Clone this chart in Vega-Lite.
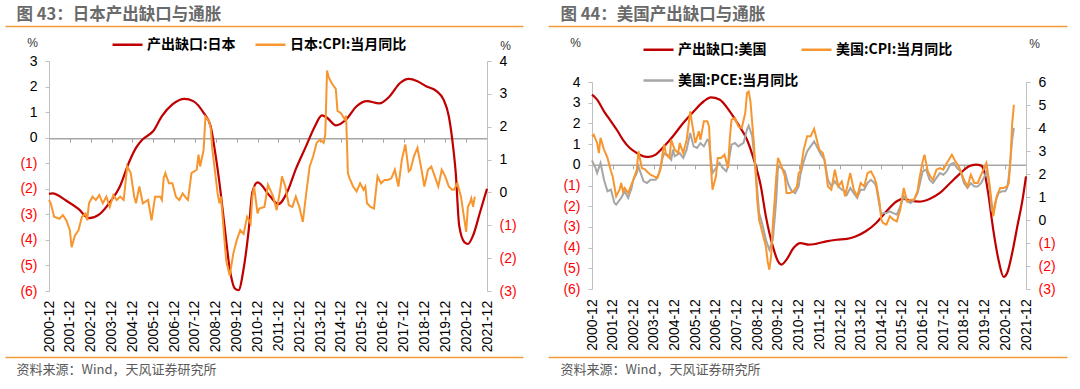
{
"$schema": "https://vega.github.io/schema/vega-lite/v6.json",
"background": "#ffffff",
"width": 1080, "height": 389,
"autosize": "none",
"padding": 0,
"config": {"view": {"stroke": null}, "axis": {"labelFont": "Liberation Sans", "titleFont": "Liberation Sans", "grid": false}},
"datasets": {
"gj": [{"d":"2000-12","v":-2.2},{"d":"2001-02","v":-2.18},{"d":"2001-10","v":-2.47},{"d":"2002-05","v":-2.79},{"d":"2002-11","v":-3.15},{"d":"2003-05","v":-3.0},{"d":"2003-11","v":-2.53},{"d":"2004-05","v":-1.88},{"d":"2004-10","v":-0.97},{"d":"2005-02","v":-0.4},{"d":"2005-06","v":-0.06},{"d":"2005-12","v":0.26},{"d":"2006-05","v":0.84},{"d":"2006-11","v":1.3},{"d":"2007-06","v":1.52},{"d":"2007-11","v":1.43},{"d":"2008-05","v":0.97},{"d":"2008-09","v":0.45},{"d":"2008-11","v":-0.32},{"d":"2009-02","v":-1.75},{"d":"2009-05","v":-3.44},{"d":"2009-08","v":-5.13},{"d":"2009-11","v":-5.91},{"d":"2010-01","v":-5.97},{"d":"2010-04","v":-5.13},{"d":"2010-07","v":-3.57},{"d":"2010-09","v":-2.14},{"d":"2010-12","v":-1.75},{"d":"2011-07","v":-2.27},{"d":"2011-12","v":-2.6},{"d":"2012-05","v":-2.14},{"d":"2012-10","v":-1.23},{"d":"2013-04","v":-0.32},{"d":"2013-09","v":0.45},{"d":"2014-01","v":0.87},{"d":"2014-04","v":0.78},{"d":"2014-09","v":0.48},{"d":"2015-03","v":0.71},{"d":"2015-09","v":1.23},{"d":"2016-03","v":1.43},{"d":"2016-10","v":1.34},{"d":"2017-04","v":1.62},{"d":"2017-10","v":2.14},{"d":"2018-03","v":2.3},{"d":"2018-08","v":2.21},{"d":"2019-01","v":2.01},{"d":"2019-07","v":1.82},{"d":"2019-11","v":1.49},{"d":"2020-02","v":0.84},{"d":"2020-04","v":-0.06},{"d":"2020-06","v":-1.36},{"d":"2020-08","v":-3.44},{"d":"2020-11","v":-4.09},{"d":"2021-01","v":-4.16},{"d":"2021-04","v":-3.83},{"d":"2021-08","v":-2.92},{"d":"2021-12","v":-2.0}],
"cj": [{"d":"2000-12","v":-0.23},{"d":"2001-01","v":-0.33},{"d":"2001-03","v":-0.74},{"d":"2001-06","v":-0.8},{"d":"2001-08","v":-0.69},{"d":"2001-10","v":-0.85},{"d":"2001-12","v":-1.15},{"d":"2002-01","v":-1.67},{"d":"2002-03","v":-1.31},{"d":"2002-05","v":-1.15},{"d":"2002-07","v":-0.74},{"d":"2002-09","v":-0.64},{"d":"2002-10","v":-0.85},{"d":"2002-11","v":-0.33},{"d":"2003-01","v":-0.13},{"d":"2003-03","v":-0.23},{"d":"2003-05","v":-0.08},{"d":"2003-07","v":-0.33},{"d":"2003-09","v":-0.13},{"d":"2003-11","v":-0.44},{"d":"2004-01","v":-0.08},{"d":"2004-03","v":-0.23},{"d":"2004-05","v":-0.13},{"d":"2004-07","v":-0.23},{"d":"2004-09","v":0.79},{"d":"2004-11","v":0.59},{"d":"2005-01","v":-0.13},{"d":"2005-02","v":-0.33},{"d":"2005-04","v":0.18},{"d":"2005-06","v":-0.33},{"d":"2005-09","v":-0.23},{"d":"2005-11","v":-0.85},{"d":"2006-01","v":-0.13},{"d":"2006-04","v":-0.13},{"d":"2006-05","v":-0.23},{"d":"2006-06","v":0.43},{"d":"2006-07","v":0.59},{"d":"2006-09","v":0.28},{"d":"2006-11","v":0.28},{"d":"2007-01","v":-0.13},{"d":"2007-03","v":-0.23},{"d":"2007-05","v":-0.03},{"d":"2007-07","v":-0.18},{"d":"2007-08","v":-0.23},{"d":"2007-10","v":0.59},{"d":"2008-01","v":0.69},{"d":"2008-02","v":1.15},{"d":"2008-03","v":0.79},{"d":"2008-05","v":1.3},{"d":"2008-06","v":2.31},{"d":"2008-08","v":2.18},{"d":"2008-09","v":1.97},{"d":"2008-10","v":1.3},{"d":"2009-01","v":-0.03},{"d":"2009-02","v":-0.33},{"d":"2009-03","v":-0.13},{"d":"2009-05","v":-1.46},{"d":"2009-06","v":-2.08},{"d":"2009-08","v":-2.54},{"d":"2009-10","v":-1.87},{"d":"2009-12","v":-1.46},{"d":"2010-02","v":-1.15},{"d":"2010-04","v":-1.26},{"d":"2010-06","v":-0.74},{"d":"2010-08","v":-0.95},{"d":"2010-09","v":-0.13},{"d":"2010-10","v":0.18},{"d":"2010-12","v":-0.64},{"d":"2011-01","v":-0.49},{"d":"2011-04","v":-0.44},{"d":"2011-06","v":0.23},{"d":"2011-09","v":-0.13},{"d":"2011-11","v":-0.54},{"d":"2012-01","v":0.08},{"d":"2012-02","v":0.49},{"d":"2012-04","v":0.18},{"d":"2012-06","v":-0.39},{"d":"2012-08","v":-0.44},{"d":"2012-10","v":-0.13},{"d":"2012-12","v":-0.44},{"d":"2013-02","v":-0.9},{"d":"2013-04","v":-0.03},{"d":"2013-06","v":0.79},{"d":"2013-08","v":1.1},{"d":"2013-10","v":1.51},{"d":"2013-12","v":1.61},{"d":"2014-02","v":1.51},{"d":"2014-03","v":1.77},{"d":"2014-04","v":3.71},{"d":"2014-05","v":3.5},{"d":"2014-07","v":3.3},{"d":"2014-09","v":3.15},{"d":"2014-10","v":2.48},{"d":"2014-12","v":2.41},{"d":"2015-02","v":2.23},{"d":"2015-03","v":2.33},{"d":"2015-04","v":0.59},{"d":"2015-05","v":0.43},{"d":"2015-07","v":0.18},{"d":"2015-09","v":0.03},{"d":"2015-11","v":0.28},{"d":"2016-01","v":0.08},{"d":"2016-02","v":0.18},{"d":"2016-03","v":-0.33},{"d":"2016-05","v":-0.44},{"d":"2016-07","v":-0.49},{"d":"2016-09","v":0.49},{"d":"2016-11","v":0.28},{"d":"2017-01","v":0.38},{"d":"2017-03","v":0.38},{"d":"2017-05","v":0.43},{"d":"2017-07","v":0.69},{"d":"2017-09","v":0.18},{"d":"2017-11","v":1.0},{"d":"2018-01","v":1.46},{"d":"2018-03","v":0.64},{"d":"2018-04","v":0.69},{"d":"2018-06","v":1.1},{"d":"2018-08","v":1.36},{"d":"2018-10","v":0.79},{"d":"2018-12","v":0.18},{"d":"2019-02","v":0.69},{"d":"2019-04","v":0.79},{"d":"2019-06","v":0.49},{"d":"2019-08","v":0.18},{"d":"2019-10","v":0.69},{"d":"2019-12","v":0.49},{"d":"2020-02","v":0.18},{"d":"2020-04","v":0.08},{"d":"2020-05","v":0.08},{"d":"2020-07","v":0.28},{"d":"2020-09","v":-0.13},{"d":"2020-12","v":-1.2},{"d":"2021-01","v":-0.44},{"d":"2021-02","v":-0.33},{"d":"2021-03","v":-0.18},{"d":"2021-04","v":-0.44},{"d":"2021-05","v":-0.13}],
"gu": [{"d":"2000-12","v":3.39},{"d":"2001-03","v":3.15},{"d":"2001-07","v":2.58},{"d":"2001-11","v":2.1},{"d":"2002-03","v":1.62},{"d":"2002-06","v":1.21},{"d":"2002-10","v":0.81},{"d":"2003-02","v":0.57},{"d":"2003-06","v":0.41},{"d":"2003-09","v":0.38},{"d":"2004-01","v":0.49},{"d":"2004-05","v":0.81},{"d":"2004-11","v":1.38},{"d":"2005-05","v":2.02},{"d":"2005-11","v":2.58},{"d":"2006-05","v":3.07},{"d":"2006-09","v":3.26},{"d":"2007-02","v":3.15},{"d":"2007-08","v":2.58},{"d":"2008-01","v":1.94},{"d":"2008-06","v":1.21},{"d":"2008-10","v":0.25},{"d":"2009-02","v":-1.04},{"d":"2009-05","v":-2.49},{"d":"2009-09","v":-3.94},{"d":"2009-12","v":-4.66},{"d":"2010-02","v":-4.82},{"d":"2010-05","v":-4.58},{"d":"2010-09","v":-4.02},{"d":"2011-01","v":-3.78},{"d":"2011-06","v":-3.86},{"d":"2011-10","v":-3.82},{"d":"2012-04","v":-3.7},{"d":"2012-10","v":-3.62},{"d":"2013-04","v":-3.58},{"d":"2013-09","v":-3.46},{"d":"2014-03","v":-3.21},{"d":"2014-09","v":-2.81},{"d":"2015-03","v":-2.25},{"d":"2015-09","v":-1.76},{"d":"2016-01","v":-1.65},{"d":"2016-05","v":-1.73},{"d":"2016-10","v":-1.78},{"d":"2017-04","v":-1.65},{"d":"2017-10","v":-1.36},{"d":"2018-04","v":-0.88},{"d":"2018-10","v":-0.4},{"d":"2019-03","v":-0.07},{"d":"2019-07","v":0.01},{"d":"2019-10","v":-0.04},{"d":"2019-12","v":-0.4},{"d":"2020-02","v":-1.36},{"d":"2020-05","v":-3.13},{"d":"2020-08","v":-4.58},{"d":"2020-11","v":-5.42},{"d":"2021-01","v":-5.23},{"d":"2021-04","v":-4.26},{"d":"2021-07","v":-2.97},{"d":"2021-10","v":-1.68},{"d":"2021-12","v":-0.56}],
"cu": [{"d":"2000-12","v":3.64},{"d":"2001-01","v":3.71},{"d":"2001-03","v":3.35},{"d":"2001-04","v":2.91},{"d":"2001-05","v":3.57},{"d":"2001-07","v":3.06},{"d":"2001-09","v":2.7},{"d":"2001-11","v":2.12},{"d":"2001-12","v":1.9},{"d":"2002-01","v":1.46},{"d":"2002-02","v":1.03},{"d":"2002-04","v":1.32},{"d":"2002-05","v":1.61},{"d":"2002-06","v":1.25},{"d":"2002-07","v":1.39},{"d":"2002-09","v":1.17},{"d":"2002-12","v":1.75},{"d":"2003-02","v":2.19},{"d":"2003-03","v":2.99},{"d":"2003-05","v":2.26},{"d":"2003-07","v":2.19},{"d":"2003-08","v":2.1},{"d":"2003-10","v":1.97},{"d":"2003-12","v":1.9},{"d":"2004-02","v":1.83},{"d":"2004-04","v":2.26},{"d":"2004-05","v":2.91},{"d":"2004-06","v":3.28},{"d":"2004-07","v":2.84},{"d":"2004-09","v":2.7},{"d":"2004-10","v":3.49},{"d":"2004-12","v":3.06},{"d":"2005-02","v":2.91},{"d":"2005-03","v":3.35},{"d":"2005-05","v":2.91},{"d":"2005-07","v":3.49},{"d":"2005-08","v":4.07},{"d":"2005-09","v":4.72},{"d":"2005-11","v":3.78},{"d":"2005-12","v":3.35},{"d":"2006-02","v":3.86},{"d":"2006-03","v":3.49},{"d":"2006-05","v":4.29},{"d":"2006-07","v":4.29},{"d":"2006-08","v":4.07},{"d":"2006-09","v":2.33},{"d":"2006-10","v":1.32},{"d":"2006-12","v":1.9},{"d":"2007-01","v":2.7},{"d":"2007-03","v":2.7},{"d":"2007-05","v":2.84},{"d":"2007-07","v":2.26},{"d":"2007-08","v":3.49},{"d":"2007-09","v":4.36},{"d":"2007-11","v":4.43},{"d":"2008-01","v":4.07},{"d":"2008-03","v":4.0},{"d":"2008-05","v":4.65},{"d":"2008-06","v":5.52},{"d":"2008-07","v":5.59},{"d":"2008-08","v":5.16},{"d":"2008-10","v":3.35},{"d":"2008-11","v":2.04},{"d":"2008-12","v":0.8},{"d":"2009-01","v":0.01},{"d":"2009-02","v":-0.28},{"d":"2009-04","v":-0.86},{"d":"2009-05","v":-1.14},{"d":"2009-06","v":-1.8},{"d":"2009-07","v":-2.16},{"d":"2009-08","v":-1.58},{"d":"2009-09","v":-0.2},{"d":"2009-10","v":0.8},{"d":"2009-11","v":1.9},{"d":"2009-12","v":2.7},{"d":"2010-02","v":2.33},{"d":"2010-04","v":1.9},{"d":"2010-05","v":1.17},{"d":"2010-07","v":1.17},{"d":"2010-09","v":1.25},{"d":"2010-11","v":1.46},{"d":"2010-12","v":2.04},{"d":"2011-01","v":2.12},{"d":"2011-03","v":3.06},{"d":"2011-05","v":3.64},{"d":"2011-07","v":3.64},{"d":"2011-09","v":3.96},{"d":"2011-12","v":3.06},{"d":"2012-02","v":2.91},{"d":"2012-03","v":2.62},{"d":"2012-05","v":1.46},{"d":"2012-07","v":1.32},{"d":"2012-09","v":2.19},{"d":"2012-11","v":1.46},{"d":"2013-01","v":1.68},{"d":"2013-03","v":1.03},{"d":"2013-06","v":2.04},{"d":"2013-08","v":1.32},{"d":"2013-10","v":1.03},{"d":"2013-12","v":1.61},{"d":"2014-02","v":1.46},{"d":"2014-04","v":2.04},{"d":"2014-06","v":2.12},{"d":"2014-08","v":1.83},{"d":"2014-09","v":1.61},{"d":"2014-11","v":0.74},{"d":"2014-12","v":0.01},{"d":"2015-01","v":-0.13},{"d":"2015-03","v":-0.2},{"d":"2015-05","v":0.16},{"d":"2015-07","v":0.01},{"d":"2015-09","v":-0.06},{"d":"2015-11","v":0.45},{"d":"2016-01","v":1.39},{"d":"2016-03","v":0.81},{"d":"2016-05","v":0.88},{"d":"2016-07","v":0.88},{"d":"2016-09","v":1.25},{"d":"2016-10","v":1.75},{"d":"2016-12","v":2.55},{"d":"2017-01","v":2.84},{"d":"2017-03","v":2.12},{"d":"2017-05","v":1.83},{"d":"2017-06","v":1.75},{"d":"2017-08","v":2.19},{"d":"2017-10","v":2.26},{"d":"2017-12","v":2.19},{"d":"2018-02","v":2.48},{"d":"2018-05","v":2.84},{"d":"2018-07","v":2.55},{"d":"2018-09","v":2.33},{"d":"2018-12","v":1.75},{"d":"2019-02","v":1.46},{"d":"2019-04","v":1.97},{"d":"2019-06","v":1.61},{"d":"2019-08","v":1.61},{"d":"2019-10","v":1.97},{"d":"2020-01","v":2.48},{"d":"2020-03","v":1.46},{"d":"2020-05","v":0.16},{"d":"2020-06","v":0.59},{"d":"2020-07","v":1.03},{"d":"2020-09","v":1.39},{"d":"2020-11","v":1.39},{"d":"2021-01","v":1.46},{"d":"2021-02","v":1.61},{"d":"2021-03","v":2.62},{"d":"2021-04","v":4.2},{"d":"2021-05","v":5.01}],
"pu": [{"d":"2000-12","v":2.59},{"d":"2001-02","v":2.26},{"d":"2001-03","v":2.04},{"d":"2001-05","v":2.48},{"d":"2001-07","v":1.75},{"d":"2001-09","v":1.25},{"d":"2001-11","v":1.32},{"d":"2002-01","v":0.74},{"d":"2002-02","v":0.67},{"d":"2002-05","v":0.96},{"d":"2002-07","v":1.25},{"d":"2002-09","v":0.96},{"d":"2002-11","v":1.39},{"d":"2002-12","v":1.75},{"d":"2003-02","v":2.04},{"d":"2003-03","v":2.33},{"d":"2003-06","v":1.68},{"d":"2003-08","v":1.61},{"d":"2003-10","v":1.75},{"d":"2004-01","v":1.75},{"d":"2004-03","v":2.04},{"d":"2004-05","v":2.7},{"d":"2004-06","v":2.91},{"d":"2004-08","v":2.84},{"d":"2004-10","v":2.62},{"d":"2004-11","v":3.06},{"d":"2004-12","v":2.77},{"d":"2005-03","v":2.91},{"d":"2005-05","v":2.7},{"d":"2005-07","v":3.06},{"d":"2005-09","v":3.78},{"d":"2005-11","v":3.2},{"d":"2006-01","v":3.13},{"d":"2006-03","v":3.35},{"d":"2006-05","v":3.2},{"d":"2006-07","v":3.49},{"d":"2006-08","v":3.42},{"d":"2006-09","v":2.62},{"d":"2006-10","v":2.04},{"d":"2006-12","v":2.26},{"d":"2007-02","v":2.48},{"d":"2007-04","v":2.26},{"d":"2007-06","v":2.12},{"d":"2007-07","v":2.33},{"d":"2007-09","v":3.28},{"d":"2007-11","v":3.35},{"d":"2008-01","v":3.2},{"d":"2008-04","v":3.35},{"d":"2008-06","v":3.93},{"d":"2008-07","v":4.1},{"d":"2008-09","v":3.64},{"d":"2008-11","v":2.19},{"d":"2009-01","v":0.3},{"d":"2009-03","v":-0.2},{"d":"2009-05","v":-0.86},{"d":"2009-07","v":-1.29},{"d":"2009-09","v":-0.86},{"d":"2009-11","v":0.88},{"d":"2009-12","v":2.33},{"d":"2010-02","v":2.26},{"d":"2010-04","v":2.12},{"d":"2010-06","v":1.54},{"d":"2010-08","v":1.25},{"d":"2010-10","v":1.17},{"d":"2010-12","v":1.46},{"d":"2011-01","v":1.97},{"d":"2011-03","v":2.55},{"d":"2011-05","v":2.99},{"d":"2011-07","v":3.2},{"d":"2011-09","v":3.42},{"d":"2011-11","v":3.13},{"d":"2012-01","v":2.84},{"d":"2012-03","v":2.62},{"d":"2012-05","v":1.75},{"d":"2012-07","v":1.46},{"d":"2012-09","v":1.68},{"d":"2012-11","v":1.46},{"d":"2013-01","v":1.32},{"d":"2013-03","v":1.25},{"d":"2013-04","v":1.1},{"d":"2013-06","v":1.39},{"d":"2013-08","v":1.17},{"d":"2013-10","v":0.96},{"d":"2013-12","v":1.32},{"d":"2014-02","v":1.32},{"d":"2014-04","v":1.61},{"d":"2014-06","v":1.75},{"d":"2014-08","v":1.61},{"d":"2014-09","v":1.46},{"d":"2014-11","v":0.59},{"d":"2014-12","v":0.23},{"d":"2015-01","v":0.3},{"d":"2015-03","v":0.3},{"d":"2015-05","v":0.38},{"d":"2015-07","v":0.3},{"d":"2015-09","v":0.23},{"d":"2015-11","v":0.59},{"d":"2016-01","v":1.03},{"d":"2016-03","v":0.81},{"d":"2016-05","v":0.74},{"d":"2016-07","v":0.88},{"d":"2016-09","v":1.17},{"d":"2016-10","v":1.46},{"d":"2016-12","v":2.12},{"d":"2017-02","v":2.19},{"d":"2017-04","v":1.75},{"d":"2017-06","v":1.61},{"d":"2017-08","v":1.83},{"d":"2017-10","v":2.04},{"d":"2017-12","v":1.97},{"d":"2018-02","v":2.12},{"d":"2018-04","v":2.41},{"d":"2018-06","v":2.48},{"d":"2018-08","v":2.26},{"d":"2018-10","v":2.12},{"d":"2018-12","v":1.61},{"d":"2019-02","v":1.39},{"d":"2019-04","v":1.61},{"d":"2019-06","v":1.46},{"d":"2019-08","v":1.46},{"d":"2019-10","v":1.61},{"d":"2019-12","v":1.9},{"d":"2020-01","v":2.12},{"d":"2020-02","v":1.9},{"d":"2020-03","v":1.32},{"d":"2020-04","v":0.45},{"d":"2020-05","v":0.3},{"d":"2020-06","v":0.74},{"d":"2020-08","v":1.17},{"d":"2020-10","v":1.25},{"d":"2020-12","v":1.25},{"d":"2021-01","v":1.39},{"d":"2021-02","v":1.9},{"d":"2021-03","v":2.62},{"d":"2021-04","v":3.49},{"d":"2021-05","v":4.0}]
},
"resolve": {"scale": {"x": "independent", "y": "independent"}, "axis": {"x": "independent", "y": "independent"}},
"layer": [
{"data": {"name": "gj"},
 "mark": {"type": "line", "opacity": 0},
 "encoding": {
  "x": {"field": "d", "type": "temporal", "scale": {"type": "utc", "domain": [{"year":2000,"month":12,"date":1,"utc":true},{"year":2021,"month":12,"date":1,"utc":true}], "range": [5, 523]},
   "axis": {"orient": "top", "offset": -26, "labels": false, "ticks": false, "domainColor": "#f39a3b", "domainWidth": 1.5, "title": "图 43：日本产出缺口与通胀", "titleFont": "Noto Sans CJK SC", "titleFontSize": 16.5, "titleFontWeight": "bold", "titleColor": "#6a6a6a", "titleAngle": 0, "titleAlign": "left", "titleBaseline": "middle", "titleX": 16, "titleY": -12}},
  "y": {"field": "v", "type": "quantitative", "scale": {"domain": [-6, 3], "nice": false, "zero": false, "range": [291, 61]}, "axis": null}
 }},
{"data": {"name": "gj"},
 "mark": {"type": "line", "opacity": 0},
 "encoding": {
  "x": {"field": "d", "type": "temporal", "scale": {"type": "utc", "domain": [{"year":2000,"month":12,"date":1,"utc":true},{"year":2021,"month":12,"date":1,"utc":true}], "range": [5, 523]},
   "axis": {"orient": "bottom", "offset": -32, "labels": false, "ticks": false, "domainColor": "#f39a3b", "domainWidth": 1.5, "title": "资料来源：Wind，天风证券研究所", "titleFont": "Noto Sans CJK SC", "titleFontSize": 13, "titleFontWeight": "normal", "titleColor": "#595959", "titleAngle": 0, "titleAlign": "left", "titleBaseline": "middle", "titleX": 16, "titleY": 12}},
  "y": {"field": "v", "type": "quantitative", "scale": {"domain": [-6, 3], "nice": false, "zero": false, "range": [291, 61]}, "axis": null}
 }},
{"data": {"name": "gj"},
 "mark": {"type": "line", "interpolate": "monotone", "strokeWidth": 2.2},
 "encoding": {
  "x": {"field": "d", "type": "temporal", "scale": {"type": "utc", "domain": [{"year":2000,"month":12,"date":1,"utc":true},{"year":2021,"month":12,"date":1,"utc":true}], "range": [49, 487]},
   "axis": {"orient": "bottom", "offset": -250.7, "values": [{"year":2000,"month":12,"date":1,"utc":true},{"year":2001,"month":12,"date":1,"utc":true},{"year":2002,"month":12,"date":1,"utc":true},{"year":2003,"month":12,"date":1,"utc":true},{"year":2004,"month":12,"date":1,"utc":true},{"year":2005,"month":12,"date":1,"utc":true},{"year":2006,"month":12,"date":1,"utc":true},{"year":2007,"month":12,"date":1,"utc":true},{"year":2008,"month":12,"date":1,"utc":true},{"year":2009,"month":12,"date":1,"utc":true},{"year":2010,"month":12,"date":1,"utc":true},{"year":2011,"month":12,"date":1,"utc":true},{"year":2012,"month":12,"date":1,"utc":true},{"year":2013,"month":12,"date":1,"utc":true},{"year":2014,"month":12,"date":1,"utc":true},{"year":2015,"month":12,"date":1,"utc":true},{"year":2016,"month":12,"date":1,"utc":true},{"year":2017,"month":12,"date":1,"utc":true},{"year":2018,"month":12,"date":1,"utc":true},{"year":2019,"month":12,"date":1,"utc":true},{"year":2020,"month":12,"date":1,"utc":true},{"year":2021,"month":12,"date":1,"utc":true}],
    "format": "%Y-%m", "labelAngle": 270, "labelAlign": "right", "labelBaseline": "middle", "labelPadding": 158, "labelFontSize": 14, "labelColor": "#000000", "labelOverlap": false, "labelFlush": false, "tickSize": 4, "tickColor": "#a6a6a6", "domainColor": "#a6a6a6", "domainWidth": 1.5, "title": null}},
  "y": {"field": "v", "type": "quantitative", "scale": {"domain": [-6, 3], "nice": false, "zero": false, "range": [291, 61]},
   "axis": {"orient": "left", "offset": -49, "values": [-6,-5,-4,-3,-2,-1,0,1,2,3], "labelExpr": "datum.value < 0 ? '(' + (-datum.value) + ')' : datum.label", "labelColor": {"condition": {"test": "datum.value < 0", "value": "#ff0000"}, "value": "#000000"}, "labelFontSize": 14, "labelPadding": 8, "tickSize": 4, "tickColor": "#bfbfbf", "domainColor": "#bfbfbf", "title": "%", "titleAngle": 0, "titleX": -17, "titleY": 42, "titleAlign": "center", "titleBaseline": "middle", "titleFontSize": 12, "titleFontWeight": "normal", "titleColor": "#333333"}},
  "color": {"datum": "产出缺口:日本", "type": "nominal", "scale": {"domain": ["产出缺口:日本", "日本:CPI:当月同比"], "range": ["#c00000", "#f7962f"]},
   "legend": {"orient": "none", "legendX": 111, "legendY": 28, "direction": "horizontal", "title": null, "symbolType": "stroke", "symbolSize": 900, "symbolStrokeWidth": 2.5, "labelFont": "Noto Sans CJK SC", "labelFontSize": 14, "labelFontWeight": "bold", "labelColor": "#000000", "labelOffset": 3, "columnPadding": 14}}
 }},
{"data": {"name": "cj"},
 "mark": {"type": "line", "strokeWidth": 2},
 "encoding": {
  "x": {"field": "d", "type": "temporal", "scale": {"type": "utc", "domain": [{"year":2000,"month":12,"date":1,"utc":true},{"year":2021,"month":12,"date":1,"utc":true}], "range": [49, 487]}, "axis": null},
  "y": {"field": "v", "type": "quantitative", "scale": {"domain": [-3, 4], "nice": false, "zero": false, "range": [291, 61]},
   "axis": {"orient": "right", "offset": -593, "values": [-3,-2,-1,0,1,2,3,4], "labelExpr": "datum.value < 0 ? '(' + (-datum.value) + ')' : datum.label", "labelColor": {"condition": {"test": "datum.value < 0", "value": "#ff0000"}, "value": "#000000"}, "labelFontSize": 14, "labelPadding": 8, "tickSize": 4, "tickColor": "#bfbfbf", "domainColor": "#bfbfbf", "title": "%", "titleAngle": 0, "titleX": 18, "titleY": 45, "titleAlign": "center", "titleBaseline": "middle", "titleFontSize": 12, "titleFontWeight": "normal", "titleColor": "#333333"}},
  "color": {"datum": "日本:CPI:当月同比", "type": "nominal"}
 }},
{"data": {"name": "gu"},
 "mark": {"type": "line", "opacity": 0},
 "encoding": {
  "x": {"field": "d", "type": "temporal", "scale": {"type": "utc", "domain": [{"year":2000,"month":12,"date":1,"utc":true},{"year":2021,"month":12,"date":1,"utc":true}], "range": [548, 1067]},
   "axis": {"orient": "top", "offset": -26, "labels": false, "ticks": false, "domainColor": "#f39a3b", "domainWidth": 1.5, "title": "图 44：美国产出缺口与通胀", "titleFont": "Noto Sans CJK SC", "titleFontSize": 16.5, "titleFontWeight": "bold", "titleColor": "#6a6a6a", "titleAngle": 0, "titleAlign": "left", "titleBaseline": "middle", "titleX": 560, "titleY": -12}},
  "y": {"field": "v", "type": "quantitative", "scale": {"domain": [-6, 4], "nice": false, "zero": false, "range": [289, 82]}, "axis": null}
 }},
{"data": {"name": "gu"},
 "mark": {"type": "line", "opacity": 0},
 "encoding": {
  "x": {"field": "d", "type": "temporal", "scale": {"type": "utc", "domain": [{"year":2000,"month":12,"date":1,"utc":true},{"year":2021,"month":12,"date":1,"utc":true}], "range": [548, 1067]},
   "axis": {"orient": "bottom", "offset": -32, "labels": false, "ticks": false, "domainColor": "#f39a3b", "domainWidth": 1.5, "title": "资料来源：Wind，天风证券研究所", "titleFont": "Noto Sans CJK SC", "titleFontSize": 13, "titleFontWeight": "normal", "titleColor": "#595959", "titleAngle": 0, "titleAlign": "left", "titleBaseline": "middle", "titleX": 560, "titleY": 12}},
  "y": {"field": "v", "type": "quantitative", "scale": {"domain": [-6, 4], "nice": false, "zero": false, "range": [289, 82]}, "axis": null}
 }},
{"data": {"name": "gu"},
 "mark": {"type": "line", "interpolate": "monotone", "strokeWidth": 2.2},
 "encoding": {
  "x": {"field": "d", "type": "temporal", "scale": {"type": "utc", "domain": [{"year":2000,"month":12,"date":1,"utc":true},{"year":2021,"month":12,"date":1,"utc":true}], "range": [592, 1026]},
   "axis": {"orient": "bottom", "offset": -224.2, "values": [{"year":2000,"month":12,"date":1,"utc":true},{"year":2001,"month":12,"date":1,"utc":true},{"year":2002,"month":12,"date":1,"utc":true},{"year":2003,"month":12,"date":1,"utc":true},{"year":2004,"month":12,"date":1,"utc":true},{"year":2005,"month":12,"date":1,"utc":true},{"year":2006,"month":12,"date":1,"utc":true},{"year":2007,"month":12,"date":1,"utc":true},{"year":2008,"month":12,"date":1,"utc":true},{"year":2009,"month":12,"date":1,"utc":true},{"year":2010,"month":12,"date":1,"utc":true},{"year":2011,"month":12,"date":1,"utc":true},{"year":2012,"month":12,"date":1,"utc":true},{"year":2013,"month":12,"date":1,"utc":true},{"year":2014,"month":12,"date":1,"utc":true},{"year":2015,"month":12,"date":1,"utc":true},{"year":2016,"month":12,"date":1,"utc":true},{"year":2017,"month":12,"date":1,"utc":true},{"year":2018,"month":12,"date":1,"utc":true},{"year":2019,"month":12,"date":1,"utc":true},{"year":2020,"month":12,"date":1,"utc":true},{"year":2021,"month":12,"date":1,"utc":true}],
    "format": "%Y-%m", "labelAngle": 270, "labelAlign": "right", "labelBaseline": "middle", "labelPadding": 130, "labelFontSize": 14, "labelColor": "#000000", "labelOverlap": false, "labelFlush": false, "tickSize": 4, "tickColor": "#a6a6a6", "domainColor": "#a6a6a6", "domainWidth": 1.5, "title": null}},
  "y": {"field": "v", "type": "quantitative", "scale": {"domain": [-6, 4], "nice": false, "zero": false, "range": [289, 82]},
   "axis": {"orient": "left", "offset": -592, "values": [-6,-5,-4,-3,-2,-1,0,1,2,3,4], "labelExpr": "datum.value < 0 ? '(' + (-datum.value) + ')' : datum.label", "labelColor": {"condition": {"test": "datum.value < 0", "value": "#ff0000"}, "value": "#000000"}, "labelFontSize": 14, "labelPadding": 8, "tickSize": 4, "tickColor": "#bfbfbf", "domainColor": "#bfbfbf", "title": "%", "titleAngle": 0, "titleX": -17, "titleY": 42, "titleAlign": "center", "titleBaseline": "middle", "titleFontSize": 12, "titleFontWeight": "normal", "titleColor": "#333333"}},
  "stroke": {"datum": "产出缺口:美国", "type": "nominal", "scale": {"domain": ["产出缺口:美国", "美国:CPI:当月同比", "美国:PCE:当月同比"], "range": ["#c00000", "#f7962f", "#a6a6a6"]},
   "legend": {"orient": "none", "legendX": 642, "legendY": 33, "direction": "horizontal", "columns": 2, "title": null, "symbolType": "stroke", "symbolSize": 900, "symbolStrokeWidth": 2.5, "labelFont": "Noto Sans CJK SC", "labelFontSize": 14, "labelFontWeight": "bold", "labelColor": "#000000", "labelOffset": 3, "columnPadding": -3, "rowPadding": 7}}
 }},
{"data": {"name": "pu"},
 "mark": {"type": "line", "strokeWidth": 2},
 "encoding": {
  "x": {"field": "d", "type": "temporal", "scale": {"type": "utc", "domain": [{"year":2000,"month":12,"date":1,"utc":true},{"year":2021,"month":12,"date":1,"utc":true}], "range": [592, 1026]}, "axis": null},
  "y": {"field": "v", "type": "quantitative", "scale": {"domain": [-3, 6], "nice": false, "zero": false, "range": [289, 82]}, "axis": null},
  "stroke": {"datum": "美国:PCE:当月同比", "type": "nominal"}
 }},
{"data": {"name": "cu"},
 "mark": {"type": "line", "strokeWidth": 2},
 "encoding": {
  "x": {"field": "d", "type": "temporal", "scale": {"type": "utc", "domain": [{"year":2000,"month":12,"date":1,"utc":true},{"year":2021,"month":12,"date":1,"utc":true}], "range": [592, 1026]}, "axis": null},
  "y": {"field": "v", "type": "quantitative", "scale": {"domain": [-3, 6], "nice": false, "zero": false, "range": [289, 82]},
   "axis": {"orient": "right", "offset": -54, "values": [-3,-2,-1,0,1,2,3,4,5,6], "labelExpr": "datum.value < 0 ? '(' + (-datum.value) + ')' : datum.label", "labelColor": {"condition": {"test": "datum.value < 0", "value": "#ff0000"}, "value": "#000000"}, "labelFontSize": 14, "labelPadding": 8, "tickSize": 4, "tickColor": "#bfbfbf", "domainColor": "#bfbfbf", "title": "%", "titleAngle": 0, "titleX": 8, "titleY": 43, "titleAlign": "center", "titleBaseline": "middle", "titleFontSize": 12, "titleFontWeight": "normal", "titleColor": "#333333"}},
  "stroke": {"datum": "美国:CPI:当月同比", "type": "nominal"}
 }}
]
}
